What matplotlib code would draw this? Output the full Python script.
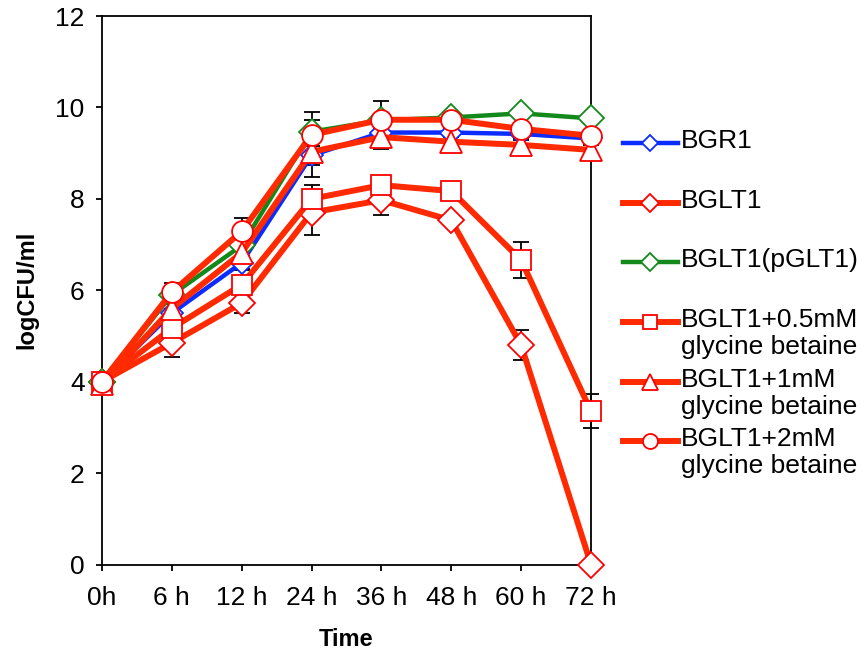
import matplotlib
matplotlib.use("Agg")
import matplotlib.pyplot as plt
from matplotlib.lines import Line2D

plt.rcParams["font.family"] = ["Liberation Sans", "DejaVu Sans"]

times = ["0h", "6 h", "12 h", "24 h", "36 h", "48 h", "60 h", "72 h"]

bgr1 = [4.0, 5.5, 6.6, 8.95, 9.45, 9.45, 9.42, 9.32]
bglt1 = [4.0, 4.85, 5.72, 7.7, 7.97, 7.53, 4.8, 0.0]
pglt1 = [4.0, 5.9, 6.98, 9.47, 9.72, 9.78, 9.87, 9.76]
gb05 = [4.0, 5.17, 6.12, 8.0, 8.3, 8.17, 6.66, 3.35]
gb1 = [3.95, 5.6, 6.82, 9.03, 9.35, 9.25, 9.18, 9.07]
gb2 = [4.0, 5.96, 7.29, 9.4, 9.73, 9.73, 9.53, 9.38]

err_bgr1 = [0, 0.1, 0.15, 0.2, 0.1, 0.1, 0.1, 0.1]
err_bglt1 = [0, 0.3, 0.22, 0.5, 0.33, 0.1, 0.33, 0]
err_pglt1 = [0, 0.1, 0.1, 0.25, 0.1, 0.1, 0.1, 0.1]
err_gb05 = [0, 0.15, 0.2, 0.3, 0.15, 0.1, 0.4, 0.37]
err_gb1 = [0, 0.1, 0.35, 0.55, 0.25, 0.1, 0.1, 0.1]
err_gb2 = [0, 0.2, 0.28, 0.5, 0.4, 0.1, 0.1, 0.1]

labels = ["BGR1", "BGLT1", "BGLT1(pGLT1)", "BGLT1+0.5mM\nglycine betaine",
          "BGLT1+1mM\nglycine betaine", "BGLT1+2mM\nglycine betaine"]

BLUE, GREEN, ORANGE, RED = "#0a2cff", "#12891a", "#ff2a00", "#ff0000"
series = [
    (bgr1, err_bgr1, BLUE, BLUE, "D", 11, 3.2),
    (bglt1, err_bglt1, ORANGE, RED, "D", 13, 4.3),
    (pglt1, err_pglt1, GREEN, GREEN, "D", 13, 3.2),
    (gb05, err_gb05, ORANGE, RED, "s", 14, 4.3),
    (gb1, err_gb1, ORANGE, RED, "^", 16, 4.3),
    (gb2, err_gb2, ORANGE, RED, "o", 15, 4.3),
]

W, H = 866, 651
fig = plt.figure(figsize=(W / 100, H / 100), dpi=100)
ax = fig.add_axes([102 / W, 1 - 564.5 / H, (591 - 102) / W, (564.5 - 16) / H])

x = list(range(len(times)))
for ys, err, lc, mc, mk, ms, lw in series:
    ax.errorbar(x, ys, yerr=err, fmt="none", ecolor="black", elinewidth=1.3,
                capsize=5.5, capthick=1.3, zorder=2, clip_on=False)
for ys, err, lc, mc, mk, ms, lw in series:
    ax.plot(x, ys, color=lc, lw=lw, marker=mk, ms=ms, mfc="white", mec=mc,
            mew=1.3, zorder=3, clip_on=False)

ax.set_xlim(0, 7)
ax.set_ylim(0, 12)
ax.set_xticks(x)
ax.set_xticklabels(times)
ax.set_yticks(range(0, 13, 2))
ax.tick_params(direction="out", length=4.5, width=1.3, labelsize=19, pad=8)
ax.tick_params(axis="x", pad=11)
for s in ax.spines.values():
    s.set_linewidth(1.3)
ax.set_ylabel("logCFU/ml", fontsize=17, fontweight="bold", labelpad=12)
ax.set_xlabel("Time", fontsize=17, fontweight="bold", labelpad=13)

# legend drawn by hand so the handle sits on the first text line
leg_y = [143, 203, 262, 322, 382, 441]
for (ys, err, lc, mc, mk, ms, lw), lab, yy in zip(series, labels, leg_y):
    fy = 1 - yy / H
    fig.add_artist(Line2D([623 / W, 678 / W], [fy, fy], color=lc, lw=lw,
                          transform=fig.transFigure))
    fig.add_artist(Line2D([650 / W], [fy], marker=mk, ms=ms * 0.72, mfc="white",
                          mec=mc, mew=1.3, transform=fig.transFigure))
    fig.text(681 / W, fy + 14 / H, lab, fontsize=19, va="top", ha="left",
             linespacing=1.15)

fig.savefig("out.png", dpi=100)
